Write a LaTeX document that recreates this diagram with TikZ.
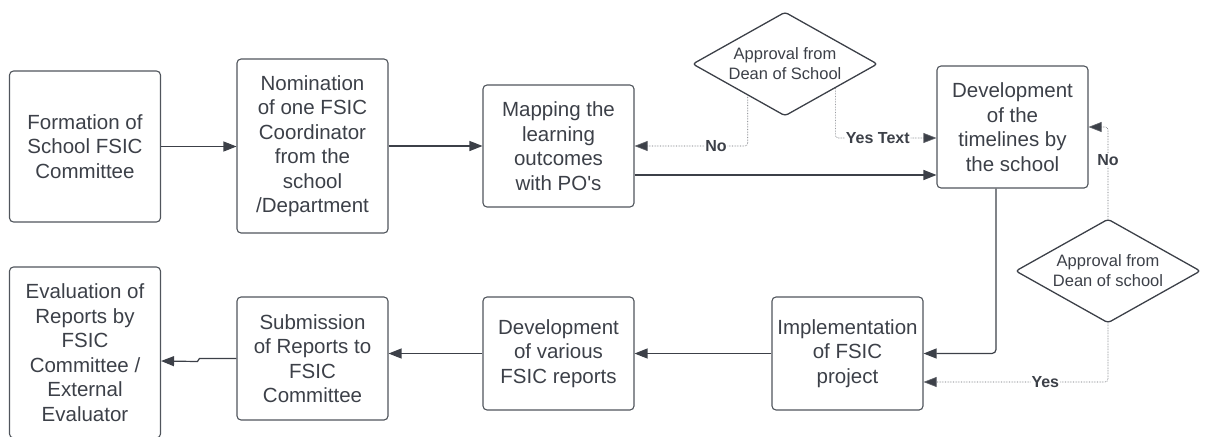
\documentclass[tikz,border=0pt]{standalone}
\usepackage{fontspec}
\setmainfont{Liberation Sans}
\usetikzlibrary{
  shapes.geometric,
  arrows.meta,
  calc,
  }
\definecolor{ink}{HTML}{3C4048}
\definecolor{rim}{HTML}{50555C}

\begin{document}
\begin{tikzpicture}[x=1pt, y=-1pt,
                    box/.style={draw=rim, line width=1.1pt, rounded corners=4pt, align=center,
                                text=ink, inner sep=0pt, minimum width=151pt,
                                font=\fontsize{20.5}{24.5}\selectfont},
                    decision/.style={draw=ink, line width=1.3pt, shape=diamond, aspect=1.78,
                                     rounded corners=3pt, inner sep=0pt, align=center, text=ink,
                                     minimum width=185pt, minimum height=104pt,
                                     font=\fontsize{16.5}{20}\selectfont},
                    arr/.style={draw=ink, line width=1.2pt, -{Triangle[length=13pt, width=10pt]}},
                    dot/.style={draw=ink!80, line width=0.6pt, densely dotted, rounded corners=3pt,
                                -{Triangle[length=13pt, width=10pt, fill=ink]}},
                    lbl/.style={fill=white, text=ink, inner sep=1pt,
                                font=\fontsize{16}{19}\selectfont\bfseries}]
                \useasboundingbox (0,0) rectangle (1206,436);
                % upper row
                \node[box, minimum height=151pt] (form) at (85,146.5) {Formation of\\School FSIC\\Committee};
                \node[box, minimum height=174pt] (nomi) at (312.5,146) {Nomination\\of one FSIC\\Coordinator\\from the\\school\\/Department};
                \node[box, minimum height=122pt] (mapp) at (558.5,146) {Mapping the\\learning\\outcomes\\with PO\textquotesingle s};
                \node[box, minimum height=122pt] (time) at (1012.5,127) {Development\\of the\\timelines by\\the school};
                \node[decision] (dean1) at (785,64) {Approval from\\Dean of School};
                \node[decision] (dean2) at (1108,271) {Approval from\\Dean of school};
                % lower row
                \node[box, minimum height=113pt] (impl) at (847.5,353.5) {Implementation\\of FSIC\\project};
                \node[box, minimum height=113pt] (repo) at (558.5,353.5) {Development\\of various\\FSIC reports};
                \node[box, minimum height=123pt] (subm) at (312.5,358.5) {Submission\\of Reports to\\FSIC\\Committee};
                \node[box, minimum height=171pt] (eval) at (85,352.5) {Evaluation of\\Reports by\\FSIC\\Committee /\\External\\Evaluator};

                \draw[arr] (form.east) -- (form.east -| nomi.west);
                \draw[arr] (nomi.east) -- (nomi.east -| mapp.west);
                \draw[arr] ([yshift=-29pt]mapp.east) -- ([yshift=-29pt]mapp.east -| time.west);
                \draw[dot] ($(dean1.west)!0.6!(dean1.south)$) |- (mapp.east) node[lbl, pos=0.64] {No};
                \draw[dot] ($(dean1.south)!0.54!(dean1.east)$) |- ([yshift=-11pt]time.west) node[lbl, pos=0.71] {Yes Text};
                \draw[arr, rounded corners=4pt] ([xshift=-16.5pt]time.south) |- (impl.east);
                \draw[dot] (dean2.north) |- (time.east) node[lbl, pos=0.32] {No};
                \draw[dot] (dean2.south) |- ([yshift=-28.5pt]impl.east) node[lbl, pos=0.67] {Yes};
                \draw[arr] (impl.west) -- (repo.east);
                \draw[arr] (repo.west) -- (repo.west -| subm.east);
                \draw[arr] (subm.west) -- ++(-37,0) -- ++(-2,3) -- ([yshift=-8.5pt]eval.east);
\end{tikzpicture}
\end{document}
